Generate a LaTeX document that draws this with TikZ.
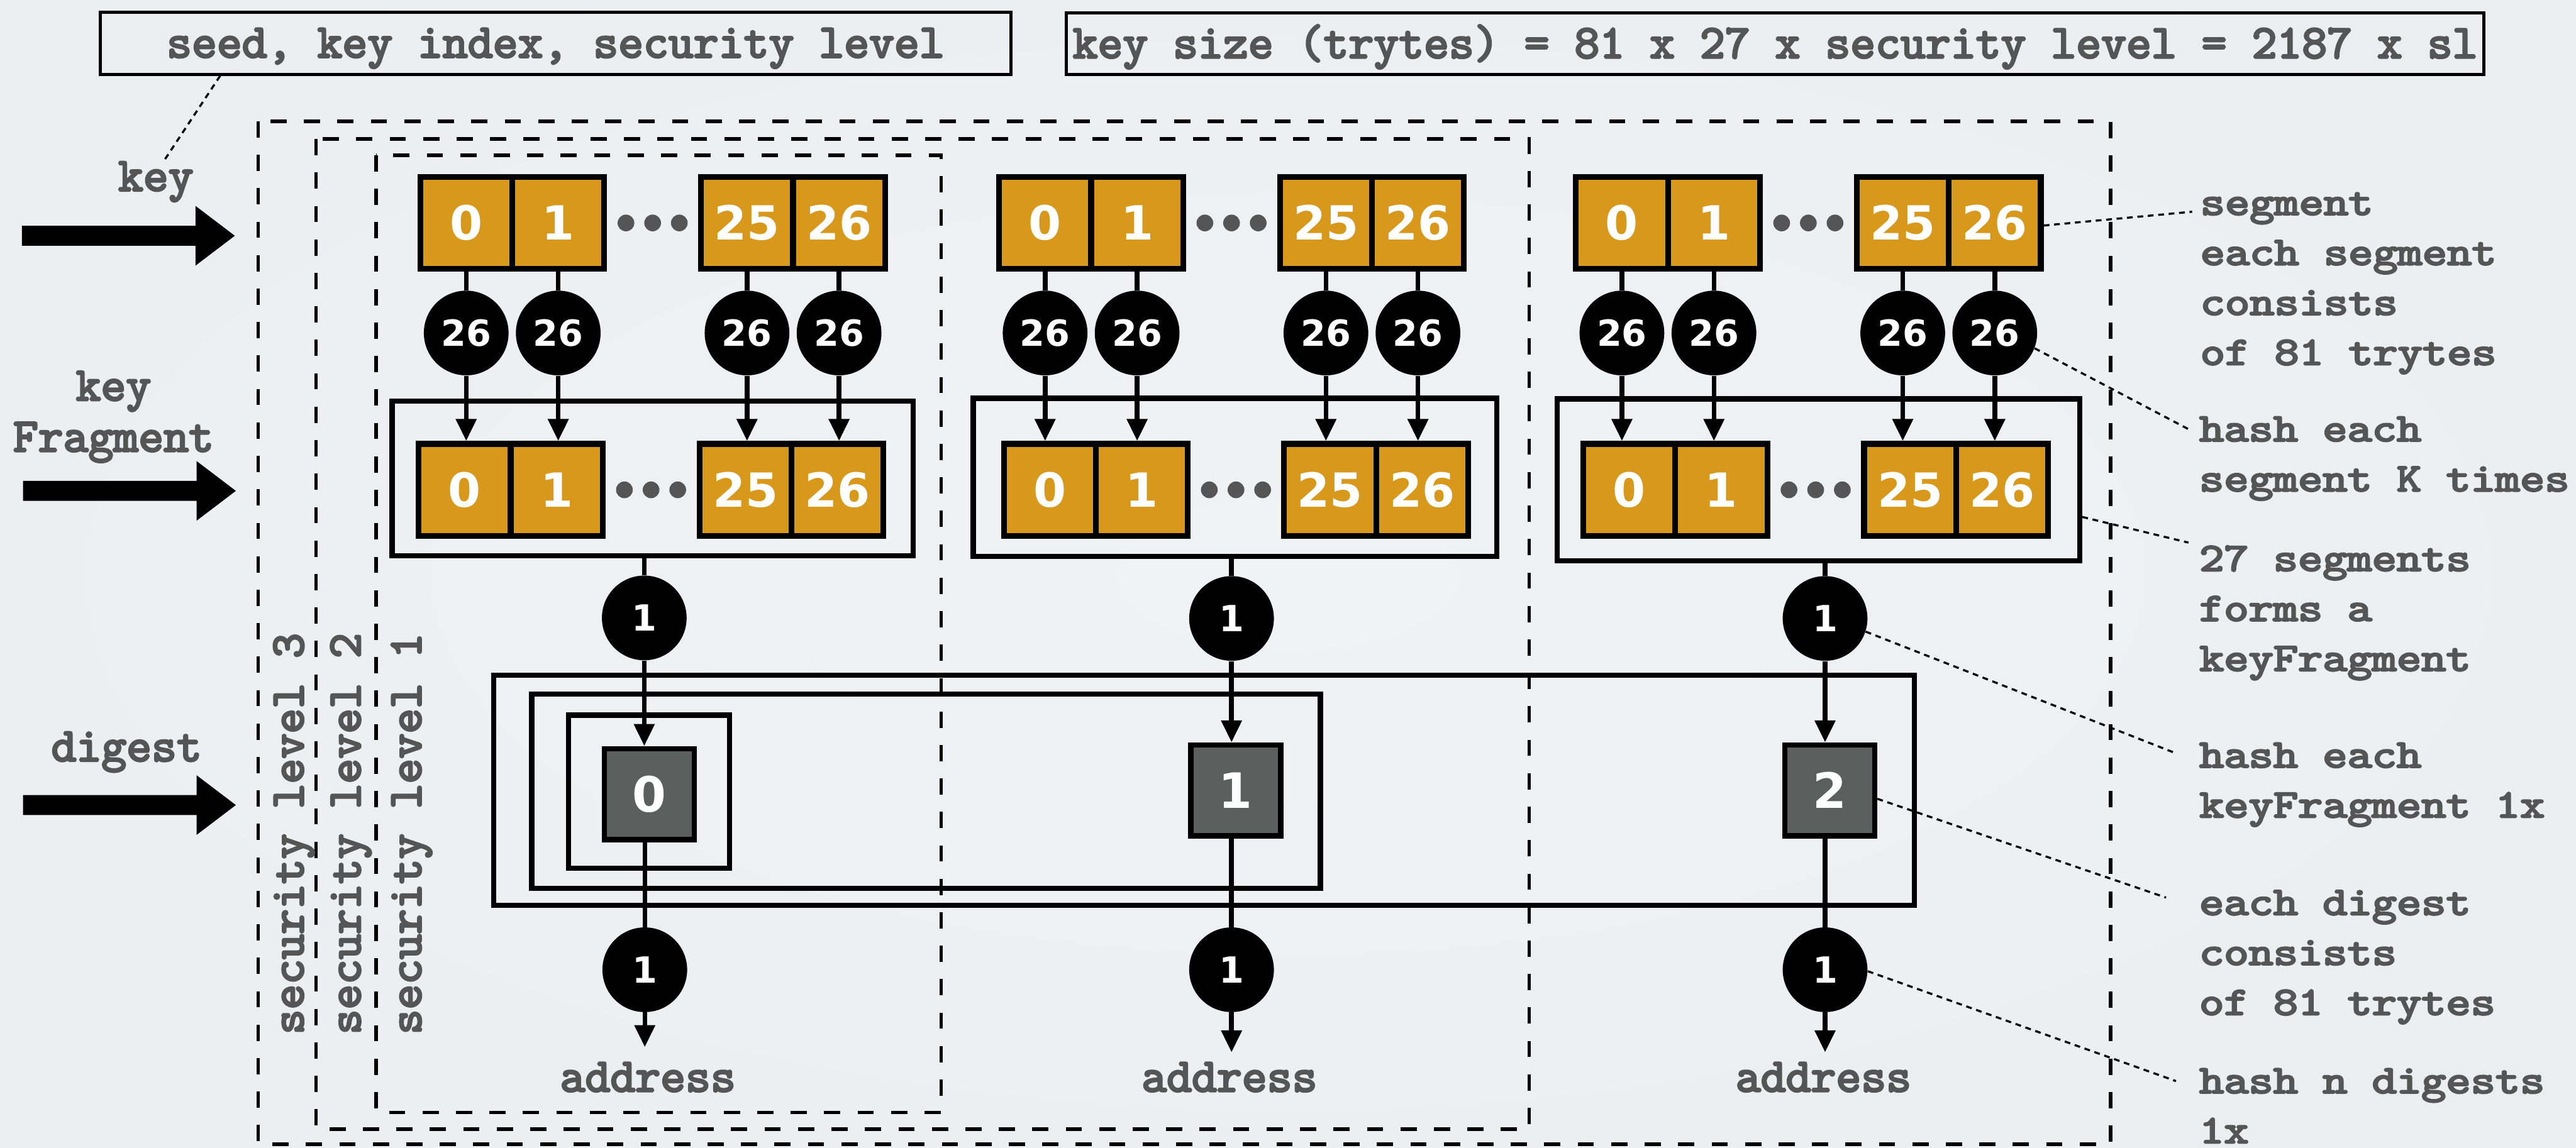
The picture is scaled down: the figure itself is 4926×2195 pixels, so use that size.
\documentclass[tikz,border=0pt]{standalone}
\usepackage{fontspec}
\newfontfamily\numfont{DejaVu Sans}
\newfontfamily\lblfont{lmmono10-regular.otf}[FakeBold=4]
\usetikzlibrary{arrows.meta}
\definecolor{segorange}{HTML}{D8981C}
\definecolor{digestgray}{HTML}{5B5F5D}
\definecolor{labelgray}{HTML}{555555}
\definecolor{bgA}{HTML}{F1F2F4}
\definecolor{bgB}{HTML}{EAECEF}
\definecolor{bgC}{HTML}{E0E3E7}
\pgfdeclareradialshading{paperglow}{\pgfpoint{0bp}{0bp}}{color(0bp)=(bgA); color(40bp)=(bgB); color(71bp)=(bgC)}

\begin{document}
\begin{tikzpicture}[x=0.1mm, y=-0.1mm,
  lbl/.style={text=labelgray, inner sep=0pt, font=\lblfont\fontsize{26}{27.8}\selectfont},
  sidenote/.style={text=labelgray, inner sep=0pt, anchor=base west, font=\lblfont\fontsize{21.8}{27.2}\selectfont},
  topbox/.style={lbl, draw=black, line width=0.6mm, text height=18.2pt, text depth=2.6pt},
  cell/.style={draw=black, line width=1.1mm, fill=segorange, minimum width=17.6mm, minimum height=17.6mm, inner sep=0pt, text=white, font=\numfont\bfseries\fontsize{25.6}{26}\selectfont},
  hashc/.style={circle, fill=black, minimum size=16.2mm, inner sep=0pt, text=white, font=\numfont\bfseries\fontsize{19.6}{20}\selectfont},
  dgst/.style={draw=black, line width=1mm, fill=digestgray, minimum width=17.2mm, minimum height=17.4mm, inner sep=0pt, text=white, font=\numfont\bfseries\fontsize{26.5}{27}\selectfont},
  dotc/.style={circle, fill=labelgray, minimum size=3.2mm, inner sep=0pt},
  kfframe/.style={draw=black, line width=1mm, inner sep=0pt},
  grp/.style={draw=black, line width=1mm},
  seclevel/.style={draw=black, line width=0.65mm, dash pattern=on 3.1mm off 3.3mm},
  wire/.style={line width=0.9mm},
  arr/.style={line width=0.9mm, -{Triangle[length=4.2mm,width=3.8mm]}},
  leader/.style={line width=0.4mm, dash pattern=on 1.1mm off 0.9mm},
  bigarrow/.pic={\fill[black] (0,0) -- (-75,-57) -- (-75,-19) -- (-407,-19) -- (-407,19) -- (-75,19) -- (-75,57) -- cycle;}
]
% paper
\shade[shading=paperglow] (0,0) rectangle (4926,2195);
\useasboundingbox (0,0) rectangle (4926,2195);

% header boxes
\node[topbox, minimum width=174.1mm, minimum height=11.9mm] (seedbox) at (1062.5,82.5) {seed, key index, security level};
\node[topbox, minimum width=271.1mm, minimum height=11.7mm] (sizebox) at (3394.5,83.5) {key size (trytes) = 81 x 27 x security level = 2187 x sl};

% security level frames
\draw[seclevel] (494,232) rectangle (4036,2189);
\draw[seclevel] (604,266) rectangle (2924,2160);
\draw[seclevel] (719,297) rectangle (1800,2128);

\node[lbl, rotate=90, anchor=base] (sl3) at (580,1595) {security level 3};
\node[lbl, rotate=90, anchor=base] (sl2) at (689,1595) {security level 2};
\node[lbl, rotate=90, anchor=base] (sl1) at (805,1595) {security level 1};

% inputs on the left
\node[lbl, anchor=base] (kl) at (298,365) {key};
\node[lbl, anchor=base] (kfl) at (217,766) {\begin{tabular}[t]{@{}c@{}}key\\Fragment\end{tabular}};
\node[lbl, anchor=base] (dgl) at (242,1456) {digest};
\pic (ka) at (449,451) {bigarrow};
\pic (kfa) at (451,939) {bigarrow};
\pic (dga) at (451,1540) {bigarrow};
\draw[leader] ([xshift=23.2mm]seedbox.south west) -- ([xshift=1.5mm]kl.north);

% digest group frames
\draw[grp] (944,1292) rectangle (3661,1732);
\draw[grp] (1017,1328) rectangle (2525,1699);
\draw[grp] (1087,1368) rectangle (1395,1661);

% keyFragment frames
\node[kfframe, minimum width=99.6mm, minimum height=29.6mm] (kf1) at (1248,915) {};
\node[kfframe, minimum width=100.1mm, minimum height=30.2mm] (kf2) at (2361.5,913) {};
\node[kfframe, minimum width=99.9mm, minimum height=31mm] (kf3) at (3477.5,918) {};

% segments, hashing circles and keyFragment segments
\foreach \k/\L/\R/\IL/\IR in {1/798/1335/795/1332, 2/1905/2442/1914/2450, 3/3008/3545/3022/3559}{
  \node[cell] (t\k-a) at (\L+93.5,426.5) {0};
  \node[cell] (t\k-b) at (\L+269.5,426.5) {1};
  \node[cell] (t\k-c) at (\R+93.5,426.5) {25};
  \node[cell] (t\k-d) at (\R+269.5,426.5) {26};
  \node[dotc] (dt\k-a) at ({(\L+363+\R)/2-51},426.5) {};
  \node[dotc] (dt\k-b) at ({(\L+363+\R)/2},426.5) {};
  \node[dotc] (dt\k-c) at ({(\L+363+\R)/2+51},426.5) {};
  \node[hashc] (h\k-a) at (\L+93.5,637) {26};
  \node[hashc] (h\k-b) at (\L+269.5,637) {26};
  \node[hashc] (h\k-c) at (\R+93.5,637) {26};
  \node[hashc] (h\k-d) at (\R+269.5,637) {26};
  \node[cell] (i\k-a) at (\IL+93.5,937) {0};
  \node[cell] (i\k-b) at (\IL+269.5,937) {1};
  \node[cell] (i\k-c) at (\IR+93.5,937) {25};
  \node[cell] (i\k-d) at (\IR+269.5,937) {26};
  \node[dotc] (di\k-a) at ({(\IL+363+\IR)/2-51},937) {};
  \node[dotc] (di\k-b) at ({(\IL+363+\IR)/2},937) {};
  \node[dotc] (di\k-c) at ({(\IL+363+\IR)/2+51},937) {};
  \foreach \s in {a,b,c,d}{
    \draw[wire] (t\k-\s) -- (h\k-\s);
    \draw[arr] (h\k-\s) -- (h\k-\s |- i\k-\s.north);
  }
}

% keyFragment hashes, digests and address hashes
\node[hashc] (u1) at (1232,1182) {1};
\node[hashc] (u2) at (2355,1183) {1};
\node[hashc] (u3) at (3490,1183) {1};
\node[dgst] (g1) at (1242,1519) {0};
\node[dgst] (g2) at (2363,1512) {1};
\node[dgst] (g3) at (3499,1512) {2};
\node[hashc] (w1) at (1233,1855) {1};
\node[hashc] (w2) at (2355,1855) {1};
\node[hashc] (w3) at (3490,1855) {1};
\coordinate (tip1) at (1233,2003);
\coordinate (tip2) at (2355,2013);
\coordinate (tip3) at (3490,2013);
\node[lbl, anchor=base] (addr1) at (1239,2088) {address};
\node[lbl, anchor=base] (addr2) at (2351,2088) {address};
\node[lbl, anchor=base] (addr3) at (3487,2088) {address};
\foreach \k in {1,2,3}{
  \draw[wire] (u\k |- kf\k.south) -- (u\k);
  \draw[arr] (u\k) -- (u\k |- g\k.north);
  \draw[wire] (w\k |- g\k.south) -- (w\k);
  \draw[arr] (w\k) -- (tip\k);
}

% notes on the right
\node[sidenote] (n1) at (4207,411) {\scalebox{1.173}[1]{\begin{tabular}[t]{@{}l@{}}segment\\each segment\\consists\\of 81 trytes\end{tabular}}};
\node[sidenote] (n2) at (4205,844) {\scalebox{1.173}[1]{\begin{tabular}[t]{@{}l@{}}hash each\\segment K times\end{tabular}}};
\node[sidenote] (n3) at (4205,1092) {\scalebox{1.173}[1]{\begin{tabular}[t]{@{}l@{}}27 segments\\forms a\\keyFragment\end{tabular}}};
\node[sidenote] (n4) at (4205,1468) {\scalebox{1.173}[1]{\begin{tabular}[t]{@{}l@{}}hash each\\keyFragment 1x\end{tabular}}};
\node[sidenote] (n5) at (4205,1750) {\scalebox{1.173}[1]{\begin{tabular}[t]{@{}l@{}}each digest\\consists\\of 81 trytes\end{tabular}}};
\node[sidenote] (n6) at (4205,2091) {\scalebox{1.173}[1]{\begin{tabular}[t]{@{}l@{}}hash n digests\\1x\end{tabular}}};

\coordinate (e1) at (4192,405);
\coordinate (e2) at (4185,821);
\coordinate (e3) at (4185,1038);
\coordinate (e4) at (4161,1441);
\coordinate (e5) at (4142,1717);
\coordinate (e6) at (4161,2068);
\draw[leader] (t3-d.-3) -- (e1);
\draw[leader] (h3-d.-21) -- (e2);
\draw[leader] (kf3.-8) -- (e3);
\draw[leader] (u3.-18) -- (e4);
\draw[leader] (g3.-10) -- (e5);
\draw[leader] (w3.-2) -- (e6);
\end{tikzpicture}
\end{document}
